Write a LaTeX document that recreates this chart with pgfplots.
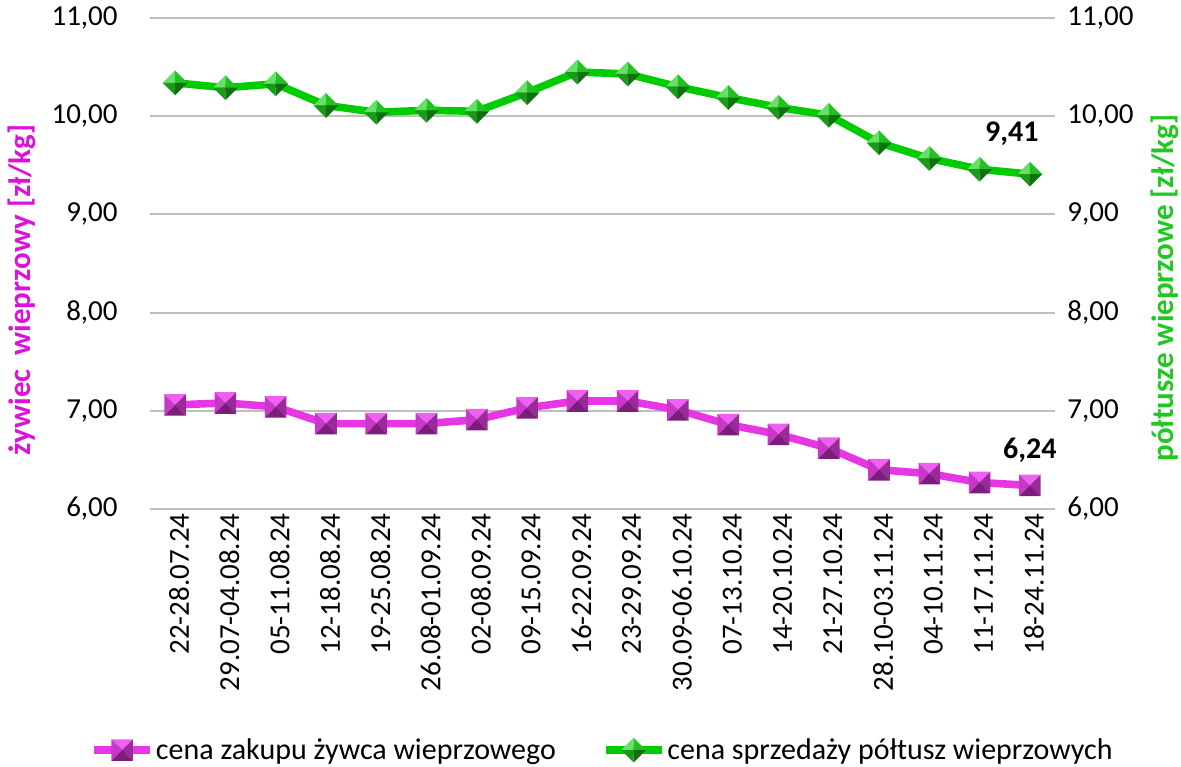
\documentclass[border=0pt]{standalone}
\usepackage{fontspec}
\setmainfont{Carlito}
\usepackage{pgfplots}
\pgfplotsset{compat=1.18}
\usetikzlibrary{calc}
\definecolor{mag}{HTML}{E636E6}
\definecolor{magt}{HTML}{DD11DD}
\definecolor{grn}{HTML}{00CC00}
\definecolor{grnt}{HTML}{22C822}
\definecolor{sqT}{HTML}{F060F0}
\definecolor{sqL}{HTML}{C838C8}
\definecolor{sqR}{HTML}{9A2A9A}
\definecolor{sqB}{HTML}{7A1E7A}
\definecolor{dmUL}{HTML}{66E066}
\definecolor{dmUR}{HTML}{22C022}
\definecolor{dmLL}{HTML}{1A9A1A}
\definecolor{dmLR}{HTML}{0E700E}
\definecolor{gridc}{HTML}{BFBFBF}
\pgfdeclareplotmark{pyrsq}{%
  \pgfpathmoveto{\pgfqpoint{-\pgfplotmarksize}{\pgfplotmarksize}}%
  \pgfpathlineto{\pgfqpoint{\pgfplotmarksize}{\pgfplotmarksize}}%
  \pgfpathlineto{\pgfqpoint{0pt}{0pt}}\pgfpathclose
  \pgfsetfillcolor{sqT}\pgfusepath{fill}%
  \pgfpathmoveto{\pgfqpoint{-\pgfplotmarksize}{\pgfplotmarksize}}%
  \pgfpathlineto{\pgfqpoint{-\pgfplotmarksize}{-\pgfplotmarksize}}%
  \pgfpathlineto{\pgfqpoint{0pt}{0pt}}\pgfpathclose
  \pgfsetfillcolor{sqL}\pgfusepath{fill}%
  \pgfpathmoveto{\pgfqpoint{\pgfplotmarksize}{\pgfplotmarksize}}%
  \pgfpathlineto{\pgfqpoint{\pgfplotmarksize}{-\pgfplotmarksize}}%
  \pgfpathlineto{\pgfqpoint{0pt}{0pt}}\pgfpathclose
  \pgfsetfillcolor{sqR}\pgfusepath{fill}%
  \pgfpathmoveto{\pgfqpoint{-\pgfplotmarksize}{-\pgfplotmarksize}}%
  \pgfpathlineto{\pgfqpoint{\pgfplotmarksize}{-\pgfplotmarksize}}%
  \pgfpathlineto{\pgfqpoint{0pt}{0pt}}\pgfpathclose
  \pgfsetfillcolor{sqB}\pgfusepath{fill}%
}
\pgfdeclareplotmark{pyrdm}{%
  \pgfpathmoveto{\pgfqpoint{-\pgfplotmarksize}{0pt}}%
  \pgfpathlineto{\pgfqpoint{0pt}{\pgfplotmarksize}}%
  \pgfpathlineto{\pgfqpoint{0pt}{0pt}}\pgfpathclose
  \pgfsetfillcolor{dmUL}\pgfusepath{fill}%
  \pgfpathmoveto{\pgfqpoint{\pgfplotmarksize}{0pt}}%
  \pgfpathlineto{\pgfqpoint{0pt}{\pgfplotmarksize}}%
  \pgfpathlineto{\pgfqpoint{0pt}{0pt}}\pgfpathclose
  \pgfsetfillcolor{dmUR}\pgfusepath{fill}%
  \pgfpathmoveto{\pgfqpoint{-\pgfplotmarksize}{0pt}}%
  \pgfpathlineto{\pgfqpoint{0pt}{-\pgfplotmarksize}}%
  \pgfpathlineto{\pgfqpoint{0pt}{0pt}}\pgfpathclose
  \pgfsetfillcolor{dmLL}\pgfusepath{fill}%
  \pgfpathmoveto{\pgfqpoint{\pgfplotmarksize}{0pt}}%
  \pgfpathlineto{\pgfqpoint{0pt}{-\pgfplotmarksize}}%
  \pgfpathlineto{\pgfqpoint{0pt}{0pt}}\pgfpathclose
  \pgfsetfillcolor{dmLR}\pgfusepath{fill}%
}
\begin{document}
\begin{tikzpicture}[font=\fontsize{14.5}{16}\selectfont]
\begin{axis}[
  name=ax,
  scale only axis,
  width=452.5pt, height=245.5pt,
  xmin=-0.5, xmax=17.5,
  ymin=6, ymax=11,
  ytick={6,7,8,9,10,11},
  yticklabel={\pgfmathprintnumber[fixed,fixed zerofill,precision=2,use comma,assume math mode=true]{\tick}},
  xtick={0,...,17},
  xticklabels={22-28.07.24,29.07-04.08.24,05-11.08.24,12-18.08.24,19-25.08.24,26.08-01.09.24,02-08.09.24,09-15.09.24,16-22.09.24,23-29.09.24,30.09-06.10.24,07-13.10.24,14-20.10.24,21-27.10.24,28.10-03.11.24,04-10.11.24,11-17.11.24,18-24.11.24},
  xticklabel style={rotate=90, anchor=east, inner sep=2pt, yshift=-2pt},
  yticklabel style={inner sep=2pt, xshift=-14pt},
  axis line style={draw=none},
  tick style={draw=none},
  ymajorgrids,
  grid style={gridc, line width=1pt},
  ylabel={żywiec\ \ wieprzowy [zł/kg]},
  ylabel style={magt, font=\fontsize{15.5}{18}\selectfont\bfseries, at={(axis description cs:-0.1414,0.446)}, anchor=center},
  legend style={at={(axis description cs:0.5,-0.491)}, anchor=center, draw=none, fill=none,
    font=\fontsize{15}{17}\selectfont,
    legend columns=2, /tikz/every even column/.append style={column sep=22pt},
    nodes={inner xsep=1pt}},
  legend image code/.code={\draw[mark repeat=2,mark phase=2,#1] plot coordinates {(0pt,0pt) (14pt,0pt) (28pt,0pt)};},
  clip=false,
]
\addplot[mag, line width=3.8pt, mark=pyrsq, mark size=5.4pt] coordinates {
(0,7.06) (1,7.08) (2,7.04) (3,6.87) (4,6.87) (5,6.87) (6,6.91) (7,7.03) (8,7.10)
(9,7.10) (10,7.01) (11,6.86) (12,6.76) (13,6.62) (14,6.40) (15,6.36) (16,6.27) (17,6.24)};
\addlegendentry{cena zakupu żywca wieprzowego}
\addplot[grn, line width=3.8pt, mark=pyrdm, mark size=6.2pt] coordinates {
(0,10.34) (1,10.29) (2,10.33) (3,10.11) (4,10.04) (5,10.06) (6,10.05) (7,10.24) (8,10.45)
(9,10.43) (10,10.30) (11,10.19) (12,10.09) (13,10.01) (14,9.73) (15,9.57) (16,9.46) (17,9.41)};
\addlegendentry{cena sprzedaży półtusz wieprzowych}
\node[font=\fontsize{15}{17}\selectfont\bfseries, anchor=south, xshift=-9pt, yshift=11pt] at (axis cs:17,9.41) {9,41};
\node[font=\fontsize{15}{17}\selectfont\bfseries, anchor=south, yshift=8pt] at (axis cs:17,6.24) {6,24};
\end{axis}
\begin{axis}[
  scale only axis,
  width=452.5pt, height=245.5pt,
  xmin=-0.5, xmax=17.5,
  ymin=6, ymax=11,
  ytick={6,7,8,9,10,11},
  yticklabel={\pgfmathprintnumber[fixed,fixed zerofill,precision=2,use comma,assume math mode=true]{\tick}},
  yticklabel style={inner sep=2pt, xshift=4pt},
  axis x line=none,
  axis y line*=right,
  axis line style={draw=none},
  tick style={draw=none},
  ylabel={półtusze wieprzowe [zł/kg]},
  ylabel style={grnt, font=\fontsize{15.5}{18}\selectfont\bfseries, at={(axis description cs:1.1215,0.45)}, anchor=center},
]
\end{axis}
\pgfresetboundingbox
\path[use as bounding box] ($(ax.south west)+(-75pt,-128.5pt)$) rectangle ($(ax.north east)+(63pt,9pt)$);
\end{tikzpicture}
\end{document}
